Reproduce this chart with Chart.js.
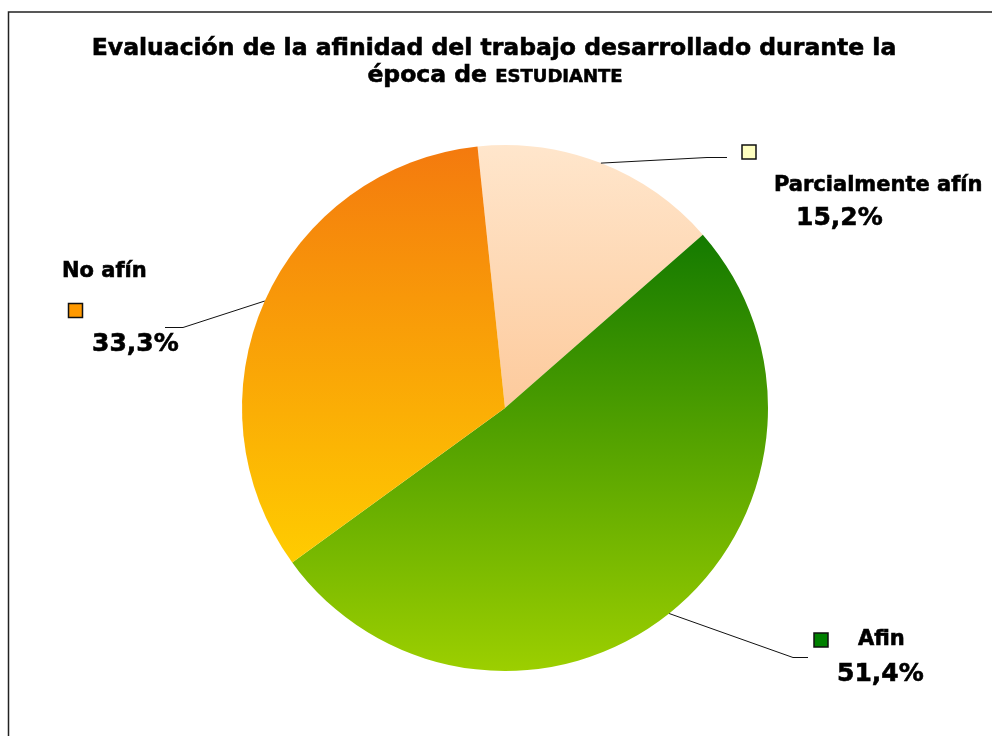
<!DOCTYPE html>
<html>
<head>
<meta charset="utf-8">
<script src="https://cdn.jsdelivr.net/npm/chart.js@4.4.1/dist/chart.umd.min.js"></script>
<style>
  body { margin: 0; background: #fff; }
</style>
</head>
<body>
<canvas id="myChart" width="992" height="736"></canvas>
<script>
const labels = ["Parcialmente afín", "Afin", "No afín"];
const values = [15.2, 51.4, 33.3];
const valueLabels = ["15,2%", "51,4%", "33,3%"];
const gradientTops = ["#FFE6CC", "#147A00", "#F47A0E"];
const gradientBottoms = ["#FDCA9C", "#9CCF00", "#FFCC00"];
const legendColors = ["#FFFFC0", "#008000", "#FF9900"];
const rotationDeg = -6;

// label placement for each slice (elbow of the leader line, its end, legend square, texts)
const labelLayout = [
  { elbow: [707, 157], end: [727, 157], box: [749, 152], name: [774, 191], value: [796, 225] },
  { elbow: [793, 657], end: [808, 657], box: [821, 640], name: [858, 645], value: [837, 681] },
  { elbow: [183, 327], end: [165, 327], box: [75.5, 310.5], name: [62, 277], value: [92, 351] },
];

const FONT = "'DejaVu Sans', Verdana, sans-serif";

// bold text with a hair of stroke so it reads as heavy as the original
function heavyText(ctx, text, x, y) {
  ctx.fillText(text, x, y);
  ctx.strokeText(text, x, y);
}

// vertical gradient spanning each slice's own height
function sliceGradient(context) {
  const chart = context.chart;
  const area = chart.chartArea;
  const i = context.dataIndex;
  if (!area) return gradientBottoms[i];
  const cx = (area.left + area.right) / 2;
  const cy = (area.top + area.bottom) / 2;
  const r = Math.min(area.width, area.height) / 2;
  const total = values.reduce((a, b) => a + b, 0);
  let start = rotationDeg * Math.PI / 180 - Math.PI / 2;
  for (let k = 0; k < i; k++) start += values[k] / total * 2 * Math.PI;
  const end = start + values[i] / total * 2 * Math.PI;
  let top = cy, bottom = cy;
  for (let s = 0; s <= 90; s++) {
    const a = start + (end - start) * s / 90;
    const y = cy + r * Math.sin(a);
    top = Math.min(top, y);
    bottom = Math.max(bottom, y);
  }
  const g = chart.ctx.createLinearGradient(0, top, 0, bottom);
  g.addColorStop(0, gradientTops[i]);
  g.addColorStop(1, gradientBottoms[i]);
  return g;
}

const frameAndTitle = {
  id: "frameAndTitle",
  beforeDraw: (chart) => {
    const { ctx } = chart;
    ctx.save();
    ctx.fillStyle = "#fff";
    ctx.fillRect(0, 0, chart.width, chart.height);
    ctx.strokeStyle = "#222";
    ctx.lineWidth = 1.5;
    ctx.beginPath();
    ctx.moveTo(8.5, chart.height);
    ctx.lineTo(8.5, 12);
    ctx.lineTo(chart.width, 12);
    ctx.stroke();

    ctx.fillStyle = "#000";
    ctx.strokeStyle = "#000";
    ctx.lineWidth = 0.6;
    ctx.textBaseline = "alphabetic";
    ctx.font = "bold 23.5px " + FONT;
    ctx.textAlign = "center";
    heavyText(ctx, "Evaluación de la afinidad del trabajo desarrollado durante la", 494, 55);
    const a = "época de ";
    const b = "ESTUDIANTE";
    ctx.font = "bold 23.5px " + FONT;
    const wa = ctx.measureText(a).width;
    ctx.font = "bold 18px " + FONT;
    const wb = ctx.measureText(b).width;
    const x0 = 495 - (wa + wb) / 2;
    ctx.textAlign = "left";
    ctx.font = "bold 23.5px " + FONT;
    heavyText(ctx, a, x0, 82);
    ctx.font = "bold 18px " + FONT;
    heavyText(ctx, b, x0 + wa, 82);
    ctx.restore();
  },
};

const sliceLabels = {
  id: "sliceLabels",
  afterDatasetsDraw: (chart) => {
    const { ctx } = chart;
    const meta = chart.getDatasetMeta(0);
    ctx.save();
    meta.data.forEach((arc, i) => {
      const p = arc.getProps(["x", "y", "startAngle", "endAngle", "outerRadius"], true);
      const mid = (p.startAngle + p.endAngle) / 2;
      const sx = p.x + p.outerRadius * Math.cos(mid);
      const sy = p.y + p.outerRadius * Math.sin(mid);
      const L = labelLayout[i];
      ctx.strokeStyle = "#111";
      ctx.lineWidth = 1;
      ctx.beginPath();
      ctx.moveTo(sx, sy);
      ctx.lineTo(L.elbow[0], L.elbow[1] + 0.5);
      ctx.lineTo(L.end[0], L.end[1] + 0.5);
      ctx.stroke();

      ctx.fillStyle = legendColors[i];
      ctx.fillRect(L.box[0] - 7, L.box[1] - 7, 14, 14);
      ctx.strokeStyle = "#111";
      ctx.lineWidth = 1.5;
      ctx.strokeRect(L.box[0] - 7, L.box[1] - 7, 14, 14);

      ctx.fillStyle = "#000";
      ctx.strokeStyle = "#000";
      ctx.lineWidth = 0.6;
      ctx.textAlign = "left";
      ctx.textBaseline = "alphabetic";
      ctx.font = "bold 21px " + FONT;
      heavyText(ctx, labels[i], L.name[0], L.name[1]);
      ctx.font = "bold 25px " + FONT;
      heavyText(ctx, valueLabels[i], L.value[0], L.value[1]);
    });
    ctx.restore();
  },
};

new Chart(document.getElementById("myChart"), {
  type: "pie",
  data: {
    labels: labels,
    datasets: [
      {
        data: values,
        backgroundColor: sliceGradient,
        borderWidth: 0,
      },
    ],
  },
  options: {
    responsive: false,
    animation: false,
    rotation: rotationDeg,
    layout: {
      padding: { left: 242, right: 224, top: 145, bottom: 65 },
    },
    plugins: {
      legend: { display: false },
      title: { display: false },
      tooltip: { enabled: false },
    },
  },
  plugins: [frameAndTitle, sliceLabels],
});
</script>
</body>
</html>
